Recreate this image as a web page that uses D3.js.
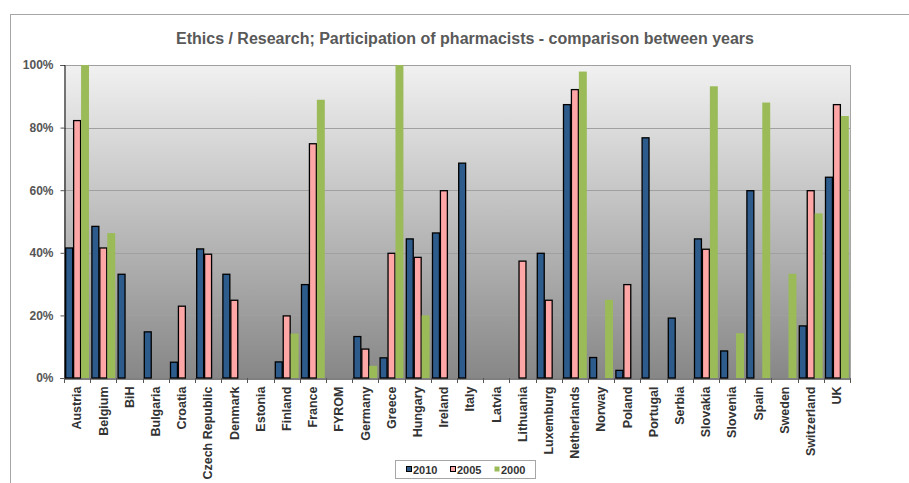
<!DOCTYPE html>
<html>
<head>
<meta charset="utf-8">
<script src="https://cdn.jsdelivr.net/npm/d3@7"></script>
<style>
  html, body { margin: 0; padding: 0; background: #fff; }
  svg { display: block; font-family: "Liberation Sans", Arial, sans-serif; }
</style>
</head>
<body>
<svg id="chart" width="909" height="483"></svg>
<script>
const title = "Ethics / Research; Participation of pharmacists - comparison between years";
const categories = ["Austria","Belgium","BiH","Bulgaria","Croatia","Czech Republic","Denmark","Estonia","Finland","France","FYROM","Germany","Greece","Hungary","Ireland","Italy","Latvia","Lithuania","Luxemburg","Netherlands","Norway","Poland","Portugal","Serbia","Slovakia","Slovenia","Spain","Sweden","Switzerland","UK"];
const seriesNames = ["2010","2005","2000"];
const v2010 = [41.7,48.6,33.3,14.9,5.2,41.4,33.3,null,5.3,30.0,null,13.4,6.6,44.6,46.5,68.8,null,null,40.0,87.5,6.7,2.6,76.9,19.3,44.6,8.8,60.0,null,16.8,64.3];
const v2005 = [82.4,41.7,null,null,23.1,39.7,25.0,null,20.0,75.0,null,9.4,40.0,38.7,60.0,null,null,37.5,25.0,92.3,null,30.0,null,null,41.3,null,null,null,60.0,87.5];
const v2000 = [100,46.3,null,null,null,null,null,null,14.2,88.9,null,3.9,100,20.0,null,null,null,null,null,97.9,25.0,null,null,null,93.2,14.3,88.0,33.3,52.6,83.7];
const yTicks = [0,20,40,60,80,100];
const colors = ["#2d5b8c","#ffa6a6","#9bbb59"];
const strokes = ["#000","#000","none"];

const svg = d3.select("#chart");
const M = {left:64, right:850, top:65, bottom:378};

// outer frame
svg.append("rect").attr("x",10.5).attr("y",14.5).attr("width",1000).attr("height",1000)
  .attr("fill","none").attr("stroke","#a6a6a6").attr("stroke-width",1);

// background gradient
const defs = svg.append("defs");
const grad = defs.append("linearGradient").attr("id","bg").attr("x1",0).attr("y1",0).attr("x2",0).attr("y2",1);
grad.append("stop").attr("offset","0%").attr("stop-color","#f1f1f1");
grad.append("stop").attr("offset","100%").attr("stop-color","#878787");

const x = d3.scaleBand().domain(categories).range([M.left, M.right]).padding(0);
const x1 = d3.scaleBand().domain(seriesNames).range([0, x.bandwidth()]).paddingInner(0).paddingOuter(0.15);
const y = d3.scaleLinear().domain([0,100]).range([M.bottom, M.top]);

svg.append("rect").attr("x",M.left).attr("y",M.top).attr("width",M.right-M.left).attr("height",M.bottom-M.top)
  .attr("fill","url(#bg)");

// grid
svg.append("g").selectAll("line").data(yTicks.filter(t=>t>0)).join("line")
  .attr("x1",M.left).attr("x2",M.right)
  .attr("y1",d=>Math.round(y(d))+0.5).attr("y2",d=>Math.round(y(d))+0.5)
  .attr("stroke","#a0a0a0").attr("stroke-width",1);
// right border
svg.append("line").attr("x1",M.right+0.5).attr("x2",M.right+0.5).attr("y1",M.top).attr("y2",M.bottom)
  .attr("stroke","#a6a6a6");

// bars
const allSeries = [v2010, v2005, v2000];
const gBars = svg.append("g");
seriesNames.forEach((s, si) => {
  const data = categories.map((c,i)=>({c, v: allSeries[si][i]})).filter(d=>d.v!=null);
  gBars.append("g").selectAll("rect").data(data).join("rect")
    .attr("x", d => x(d.c) + x1(s) + (si<2?0.5:0))
    .attr("y", d => y(d.v) + (si<2?0.5:0))
    .attr("width", x1.bandwidth() - (si<2?1:0))
    .attr("height", d => y(0) - y(d.v) - (si<2?0.5:0))
    .attr("fill", colors[si])
    .attr("stroke", strokes[si])
    .attr("stroke-width", si<2?1.3:0);
});

// y axis
const yAxis = d3.axisLeft(y).tickValues(yTicks).tickFormat(d=>d+"%").tickSize(4).tickPadding(7);
const gy = svg.append("g").attr("transform",`translate(${M.left+0.5},0)`).call(yAxis);
gy.select(".domain").attr("stroke","#000");
gy.selectAll(".tick line").attr("stroke","#555");
gy.selectAll("text").attr("font-size","12px").attr("font-weight","bold").attr("fill","#555")
  .attr("font-family","'Liberation Sans', Arial, sans-serif");

// x axis
const xAxis = d3.axisBottom(x).tickSize(0).tickPadding(0);
const gx = svg.append("g").attr("transform",`translate(0,${M.bottom+0.5})`).call(xAxis);
gx.select(".domain").attr("stroke","#000");
gx.selectAll(".tick text")
  .attr("transform","rotate(-90)")
  .attr("x",-8).attr("y",0).attr("dy","0.35em")
  .attr("text-anchor","end")
  .attr("font-size","12.5px").attr("font-weight","bold").attr("fill","#333")
  .attr("font-family","'Liberation Sans', Arial, sans-serif");
// category boundary ticks
const bounds = categories.map(c=>x(c)).concat([M.right]);
svg.append("g").selectAll("line").data(bounds).join("line")
  .attr("x1",d=>Math.round(d)+0.5).attr("x2",d=>Math.round(d)+0.5)
  .attr("y1",M.bottom).attr("y2",M.bottom+5).attr("stroke","#555");

// title
svg.append("text").attr("x",465).attr("y",44).attr("text-anchor","middle")
  .attr("font-size","16px").attr("font-weight","bold").attr("fill","#595959").text(title);

// legend
const lg = svg.append("g");
lg.append("rect").attr("x",395.5).attr("y",460.5).attr("width",140).attr("height",18)
  .attr("fill","#fff").attr("stroke","#a6a6a6");
const lx = [406, 450, 494];
seriesNames.forEach((s,i)=>{
  lg.append("rect").attr("x",lx[i]+0.5).attr("y",466.5).attr("width",5).attr("height",5)
    .attr("fill",colors[i]).attr("stroke",strokes[i]);
  lg.append("text").attr("x",lx[i]+7).attr("y",473.5).attr("font-size","11px").attr("font-weight","bold")
    .attr("fill","#333").text(s);
});
</script>
</body>
</html>
